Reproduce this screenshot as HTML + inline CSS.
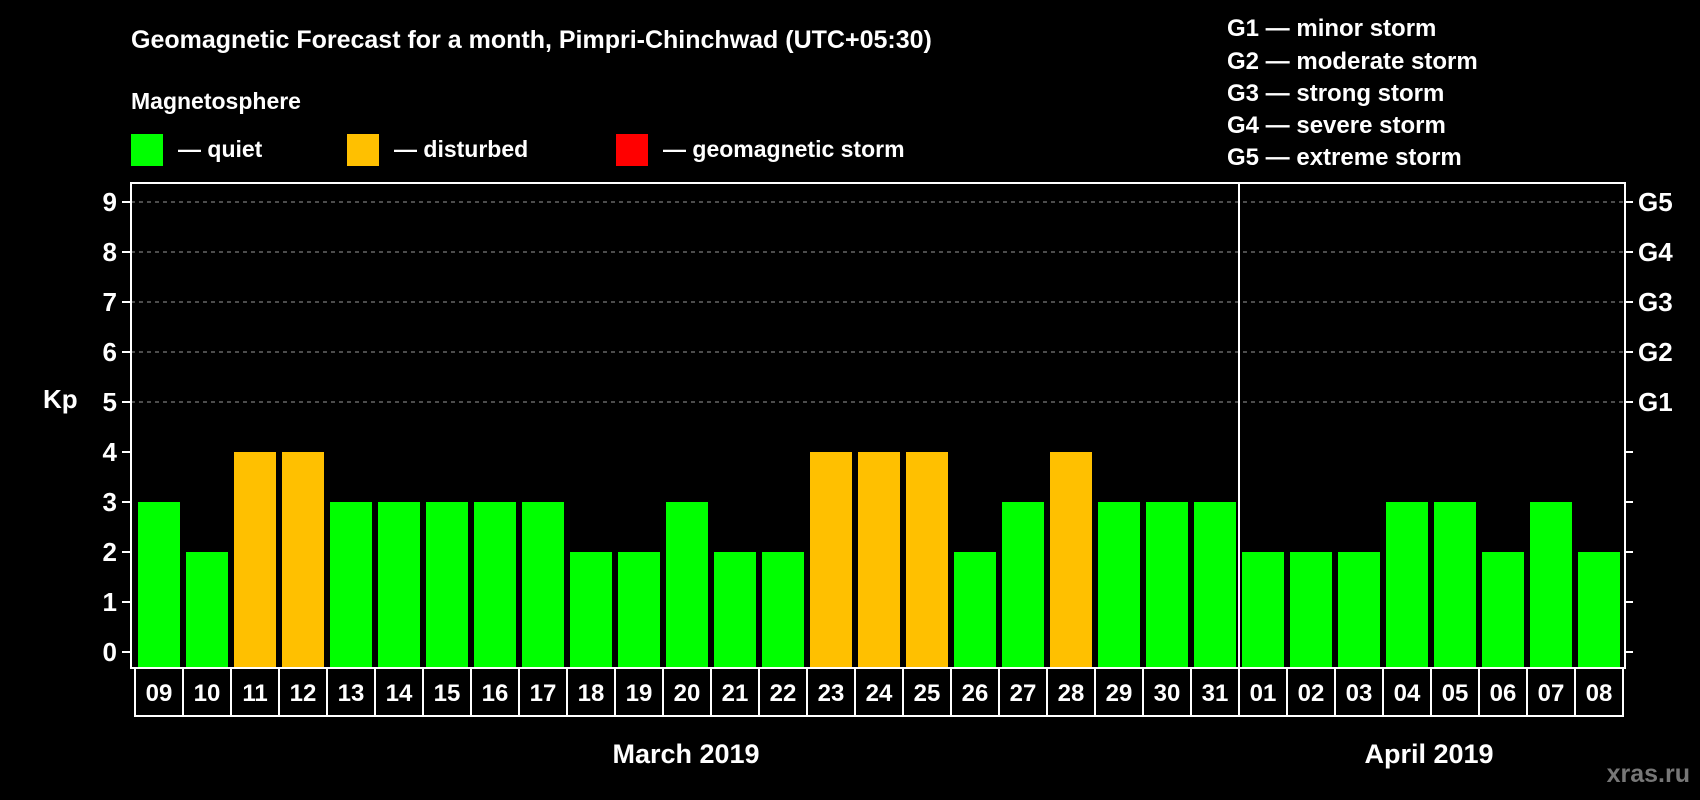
<!DOCTYPE html>
<html><head><meta charset="utf-8"><style>
html,body{margin:0;padding:0;background:#000;}
svg{display:block;font-family:"Liberation Sans",Arial,sans-serif;font-weight:bold;}
</style></head><body>
<svg id="chart" width="1700" height="800" viewBox="0 0 1700 800">
<text x="131" y="48" fill="#fff" font-size="25">Geomagnetic Forecast for a month, Pimpri-Chinchwad (UTC+05:30)</text>
<text x="131" y="109" fill="#fff" font-size="23">Magnetosphere</text>
<rect x="131" y="134" width="32" height="32" fill="#00ff00"/>
<text x="178" y="157" fill="#fff" font-size="23">— quiet</text>
<rect x="347" y="134" width="32" height="32" fill="#ffc000"/>
<text x="394" y="157" fill="#fff" font-size="23">— disturbed</text>
<rect x="616" y="134" width="32" height="32" fill="#ff0000"/>
<text x="663" y="157" fill="#fff" font-size="23">— geomagnetic storm</text>
<g font-size="24" fill="#fff">
<text x="1227" y="36">G1 — minor storm</text>
<text x="1227" y="69">G2 — moderate storm</text>
<text x="1227" y="101">G3 — strong storm</text>
<text x="1227" y="133">G4 — severe storm</text>
<text x="1227" y="165">G5 — extreme storm</text>
</g>
<text x="43" y="408" fill="#fff" font-size="26">Kp</text>
<g id="grid"></g><g id="bars"></g><g id="axes"></g>
<text x="686" y="763" fill="#fff" font-size="27" text-anchor="middle">March 2019</text>
<text x="1429" y="763" fill="#fff" font-size="27" text-anchor="middle">April 2019</text>
<text x="1690" y="782" fill="#777" font-size="25" text-anchor="end">xras.ru</text>
</svg>
<script>
const days = ["09","10","11","12","13","14","15","16","17","18","19","20","21","22","23","24","25","26","27","28","29","30","31","01","02","03","04","05","06","07","08"];
const kpValues = [3,2,4,4,3,3,3,3,3,2,2,3,2,2,4,4,4,2,3,4,3,3,3,2,2,2,3,3,2,3,2];
const yTicks = [0,1,2,3,4,5,6,7,8,9];
const gLabels = ["G1","G2","G3","G4","G5"];
const NS="http://www.w3.org/2000/svg";
const L=131,R=1625,T=183,B=668,slot0=135,slotW=48;
function y(v){return 652-v*50;}
function x(i){return slot0+i*slotW;}
function mk(tag,attrs,parent){const e=document.createElementNS(NS,tag);for(const k in attrs)e.setAttribute(k,attrs[k]);parent.appendChild(e);return e;}
const grid=document.getElementById('grid'),bars=document.getElementById('bars'),axes=document.getElementById('axes');
yTicks.forEach(v=>{
  if(v>=5){const g=mk('line',{x1:L,x2:R,y1:y(v),y2:y(v),stroke:'#999','stroke-dasharray':'4 4','stroke-width':1},grid);
  
  }
  const t1=mk('line',{x1:L-9,x2:L,y1:y(v),y2:y(v),stroke:'#fff','stroke-width':2},axes);
  
  
  const t2=mk('line',{x1:R,x2:R+8,y1:y(v),y2:y(v),stroke:'#fff','stroke-width':2},axes);
  
  
  const lb=mk('text',{x:117,y:y(v)+9,fill:'#fff','font-size':26,'text-anchor':'end'},axes);
  lb.textContent=v;
  
  
});
gLabels.forEach((g,i)=>{
  const t=mk('text',{x:1638,y:y(5+i)+9,fill:'#fff','font-size':26},axes);
  t.textContent=g;
  
  
});
days.forEach((d,i)=>{
  const v=kpValues[i];
  const b=mk('rect',{x:x(i)+3,y:y(v),width:42,height:y(0)-y(v)+16,fill:v>=5?'#ff0000':(v>=4?'#ffc000':'#00ff00')},bars);
  
  
  const box=mk('rect',{x:x(i),y:B,width:slotW,height:48,fill:'none',stroke:'#fff','stroke-width':2},axes);
  
  
  const t=mk('text',{x:x(i)+slotW/2,y:B+33,fill:'#fff','font-size':24,'text-anchor':'middle'},axes);
  t.textContent=d;
  
  
});
const fr=mk('rect',{x:L,y:T,width:R-L,height:B-T,fill:'none',stroke:'#fff','stroke-width':2},axes);


const idx=days.indexOf("01");
const dv=mk('line',{x1:x(idx),x2:x(idx),y1:T,y2:B,stroke:'#fff','stroke-width':2},axes);


</script>
</body></html>
